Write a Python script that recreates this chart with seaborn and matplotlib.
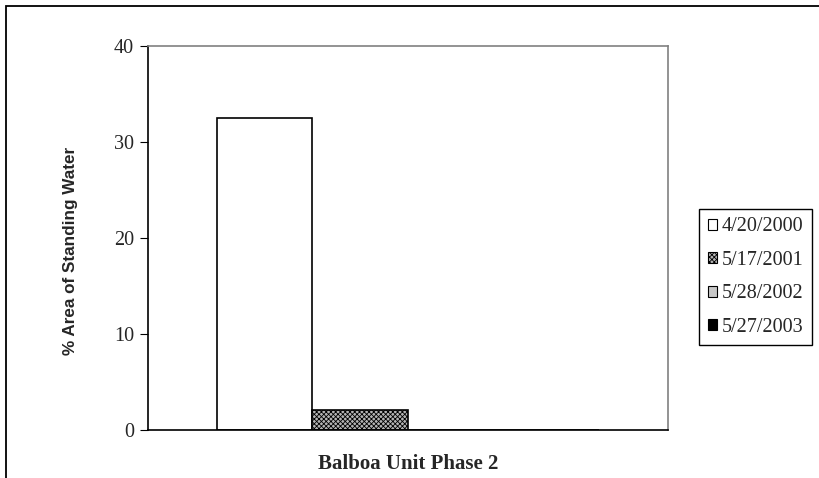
import pandas as pd
import matplotlib
matplotlib.use("Agg")
import matplotlib.pyplot as plt
import matplotlib.patches as mpatches
import seaborn as sns

#%%
#  Data

site = ["Balboa Unit Phase 2"]
dates = ["4/20/2000", "5/17/2001", "5/28/2002", "5/27/2003"]
standing_water = [32.5, 2.1, 0.0, 0.0]

df = pd.DataFrame({"site": site * len(dates),
                   "date": dates,
                   "pct": standing_water})

#%%
#  Plot

sns.set_style("white")
plt.rcParams["font.family"] = ["Liberation Serif", "DejaVu Serif"]
plt.rcParams["hatch.linewidth"] = 0.6

fig = plt.figure(figsize=(8.19, 4.78), dpi=100)
ax = fig.add_axes([148 / 819, 1 - 430 / 478, 520 / 819, 384 / 478])

faces = ["white", "#b4b4b4", "#c8c8c8", "black"]
sns.barplot(data=df, x="site", y="pct", hue="date", hue_order=dates,
            palette=faces, width=0.735, gap=0, edgecolor="black",
            linewidth=1.2, saturation=1, ax=ax, legend=True)

# dotted fill on the 2001 bar
for patch, d in zip(ax.patches, dates):
    if d == "5/17/2001":
        patch.set_hatch("xxxxxxx")

ax.set_xlim(-0.5, 0.5)
ax.set_ylim(0, 40)
ax.set_yticks([0, 10, 20, 30, 40])
ax.set_ylabel("% Area of Standing Water", family=["Liberation Sans"],
              fontweight="bold", fontsize=12.3)
ax.yaxis.set_label_coords(-0.135, 0.466)
ax.set_xlabel("")
ax.set_xticks([0])
ax.set_xticklabels(site, fontweight="bold", fontsize=15)
ax.tick_params(axis="x", length=0, pad=17)
ax.set_xticks([-0.5, 0.5], minor=True)
ax.tick_params(axis="x", which="minor", length=6, color="black", width=1)
ax.tick_params(axis="y", length=6, direction="out", left=True,
               labelsize=14.5, pad=4, color="black")

for side in ["left", "bottom"]:
    ax.spines[side].set_color("black")
    ax.spines[side].set_linewidth(1.2)
for side in ["top", "right"]:
    ax.spines[side].set_color("#808080")
    ax.spines[side].set_linewidth(1.2)

leg = ax.legend(loc="upper right", bbox_to_anchor=(812 / 819, 1 - 209 / 478),
                bbox_transform=fig.transFigure, borderaxespad=0,
                fancybox=False, edgecolor="black", framealpha=1,
                fontsize=14.5, handlelength=0.45, handleheight=0.45,
                handletextpad=0.25, labelspacing=0.72, borderpad=0.42)
leg.get_frame().set_linewidth(1)
for h in leg.legend_handles:
    h.set_edgecolor("black")
    h.set_linewidth(0.8)
leg.legend_handles[1].set_hatch("xxxxxxx")

# outer chart border (cut off at right/bottom in the original)
fig.patches.append(mpatches.Rectangle((6 / 819, -0.1), 1.2, 1 - 6 / 478 + 0.1,
                                      transform=fig.transFigure, fill=False,
                                      edgecolor="black", linewidth=1.3))

fig.savefig("out.png", dpi=100)
